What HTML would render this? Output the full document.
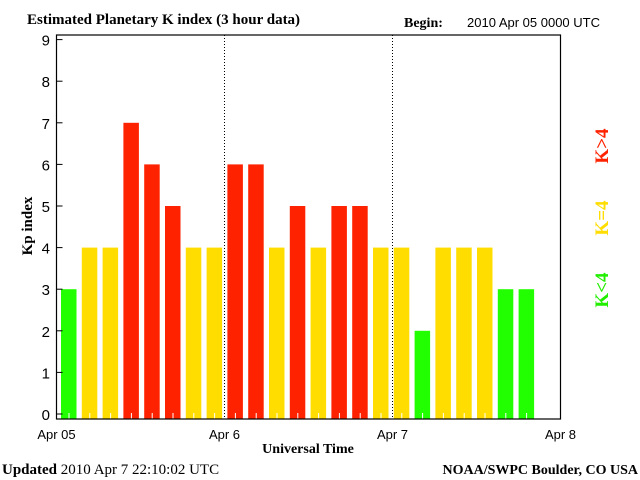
<!DOCTYPE html>
<html><head><style>
body{margin:0;background:#fff;}
svg{display:block;}
</style></head><body>
<svg width="640" height="480" xmlns="http://www.w3.org/2000/svg">
<g id="root"></g>
<text x="27" y="24" font-family="Liberation Serif, serif" font-weight="bold" font-size="15">Estimated Planetary K index (3 hour data)</text>
<text x="404" y="27" font-family="Liberation Serif, serif" font-weight="bold" font-size="14">Begin:</text>
<text x="467" y="27" font-family="Liberation Sans, sans-serif" font-size="13">2010 Apr 05 0000 UTC</text>
<text x="32" y="226" transform="rotate(-90 32 226)" text-anchor="middle" font-family="Liberation Serif, serif" font-weight="bold" font-size="15">Kp index</text>
<text x="308" y="453" text-anchor="middle" font-family="Liberation Serif, serif" font-weight="bold" font-size="14">Universal Time</text>
<text x="2" y="474" font-family="Liberation Serif, serif" font-size="15"><tspan font-weight="bold">Updated</tspan> 2010 Apr  7 22:10:02 UTC</text>
<text x="638" y="474" text-anchor="end" font-family="Liberation Serif, serif" font-weight="bold" font-size="14">NOAA/SWPC Boulder, CO USA</text>
<text x="608" y="290" transform="rotate(-90 608 290)" text-anchor="middle" fill="#22ee00" font-family="Liberation Serif, serif" font-weight="bold" font-size="19">K&lt;4</text>
<text x="608" y="218" transform="rotate(-90 608 218)" text-anchor="middle" fill="#ffdd00" font-family="Liberation Serif, serif" font-weight="bold" font-size="19">K=4</text>
<text x="608" y="146" transform="rotate(-90 608 146)" text-anchor="middle" fill="#ff2200" font-family="Liberation Serif, serif" font-weight="bold" font-size="19">K&gt;4</text>
</svg>
<script>
const kpValues=[3,4,4,7,6,5,4,4,6,6,4,5,4,5,5,4,4,2,4,4,4,3,3];
const yTicks=[0,1,2,3,4,5,6,7,8,9];
const dayLabels=["Apr 05","Apr 6","Apr 7","Apr 8"];
const NS="http://www.w3.org/2000/svg";
const root=document.getElementById('root');
const X0=56.5,DAY=168,SLOT=20.8,Y0=414,UNIT=41.6,BOTTOM=419,TOP=35;
const xs=i=>X0+i*SLOT;
const ys=v=>Y0-v*UNIT;
function mk(t,a){const e=document.createElementNS(NS,t);for(const k in a)e.setAttribute(k,a[k]);root.appendChild(e);return e;}
kpValues.forEach((v,i)=>{
  const c=v<4?'#22ff00':(v===4?'#ffdd00':'#ff2200');
  const r=mk('rect',{x:xs(i)+4.5,y:ys(v),width:15.5,height:BOTTOM-ys(v),fill:c});
  
  
  const t=mk('line',{x1:xs(i)+12.5,x2:xs(i)+12.5,y1:BOTTOM-6,y2:BOTTOM,stroke:'#fff','stroke-width':1});
  
  
});
[1,2].forEach(d=>{
  const l=mk('line',{x1:X0+d*DAY,x2:X0+d*DAY,y1:TOP,y2:BOTTOM,stroke:'#000','stroke-dasharray':'1,2'});
  
  
});
const f=mk('rect',{x:X0,y:TOP,width:3*DAY,height:BOTTOM-TOP,fill:'none',stroke:'#000','stroke-width':1.2});


yTicks.forEach(v=>{
  const l=mk('line',{x1:X0,x2:X0+6,y1:ys(v),y2:ys(v),stroke:'#000'});
  
  
  const t=mk('text',{x:50,y:ys(v)+6,'text-anchor':'end','font-family':'Liberation Sans, sans-serif','font-size':15});
  t.textContent=v;
  
  
});
dayLabels.forEach((s,d)=>{
  const t=mk('text',{x:X0+d*DAY,y:439,'text-anchor':'middle','font-family':'Liberation Sans, sans-serif','font-size':13});
  t.textContent=s;
  
  
});
</script>
</body></html>
